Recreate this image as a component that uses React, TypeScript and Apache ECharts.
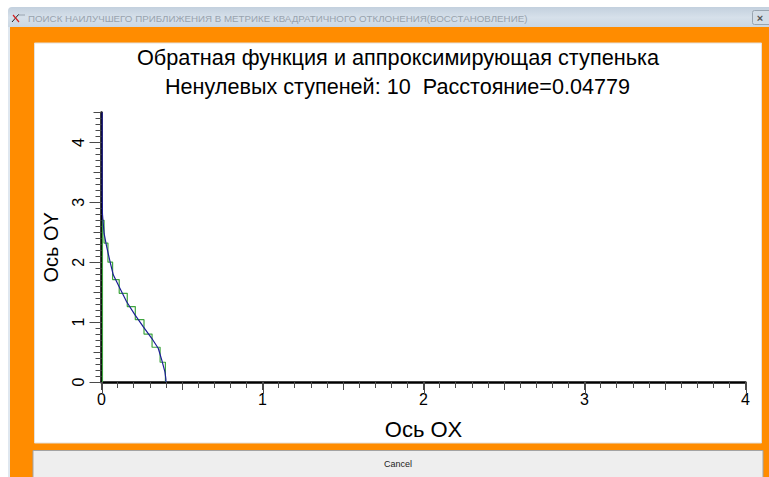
import React, { useEffect, useRef } from "react";
import * as echarts from "echarts";

const windowTitle = "ПОИСК НАИЛУЧШЕГО ПРИБЛИЖЕНИЯ В МЕТРИКЕ КВАДРАТИЧНОГО ОТКЛОНЕНИЯ(ВОССТАНОВЛЕНИЕ)";
const titleLine1 = "Обратная функция и аппроксимирующая ступенька";
const titleLine2 = "Ненулевых ступеней: 10  Расстояние=0.04779";
const xAxisName = "Ось OX";
const yAxisName = "Ось OY";
const cancelLabel = "Cancel";
const xMajorTicks = [0, 1, 2, 3, 4];
const yMajorTicks = [0, 1, 2, 3, 4];

const curveX = [0.004, 0.004, 0.006, 0.016, 0.032, 0.053, 0.073, 0.115, 0.156, 0.208, 0.26, 0.312, 0.353, 0.374, 0.394, 0.4, 0.4];
const curveY = [4.5, 3.2, 2.8, 2.48, 2.26, 2.01, 1.79, 1.56, 1.34, 1.12, 0.92, 0.73, 0.56, 0.37, 0.17, 0.05, 0];

const stepX = [0.006, 0.006, 0.016, 0.016, 0.04, 0.04, 0.069, 0.069, 0.11, 0.11, 0.16, 0.16, 0.21, 0.21, 0.264, 0.264, 0.314, 0.314, 0.364, 0.364, 0.397, 0.397];
const stepY = [0, 2.7, 2.7, 2.32, 2.32, 2.0, 2.0, 1.71, 1.71, 1.48, 1.48, 1.26, 1.26, 1.04, 1.04, 0.8, 0.8, 0.58, 0.58, 0.33, 0.33, 0];

const FONT = "Liberation Sans";
const TICK = "#4a4a4a";
const LONG_TICK = 12;

const pairs = (a: number[], b: number[]) => a.map((v, i) => [v, b[i]]);
const wholeOnly = (v: number) => (Number.isInteger(v) ? String(v) : "");

const longTickSeries = (values: number[], horizontal: boolean) => ({
  type: "custom",
  silent: true,
  clip: false,
  z: 1,
  data: values.map((v) => [v]),
  encode: { x: horizontal ? 0 : -1, y: horizontal ? -1 : 0 },
  renderItem: (_: any, api: any) => {
    const v = api.value(0);
    const p = api.coord(horizontal ? [v, 0] : [0, v]);
    return {
      type: "line",
      shape: horizontal
        ? { x1: Math.round(p[0]) + 0.5, y1: p[1], x2: Math.round(p[0]) + 0.5, y2: p[1] + LONG_TICK }
        : { x1: p[0], y1: Math.round(p[1]) + 0.5, x2: p[0] - LONG_TICK, y2: Math.round(p[1]) + 0.5 },
      style: { stroke: TICK, lineWidth: 1, fill: "none" },
    };
  },
});

export default function App() {
  const ref = useRef<HTMLDivElement>(null);
  useEffect(() => {
    document.body.style.margin = "0";
    const chart = echarts.init(ref.current!, undefined, { renderer: "svg" });
    chart.setOption({
      animation: false,
      backgroundColor: "#ffffff",
      title: [
        { text: titleLine1, left: 393, top: 41, textAlign: "center", textStyle: { fontFamily: FONT, fontSize: 21.7, fontWeight: "normal", color: "#000" } },
        { text: titleLine2, left: 392.5, top: 70, textAlign: "center", textStyle: { fontFamily: FONT, fontSize: 21.6, fontWeight: "normal", color: "#000" } },
      ],
      grid: { left: 101.5, right: 23.5, top: 112.5, bottom: 95, containLabel: false },
      xAxis: {
        type: "value", min: 0, max: 4, interval: 0.5, position: "bottom",
        axisLine: { show: true, onZero: false, lineStyle: { color: "#000", width: 2.5 } },
        axisTick: { show: true, length: 8, lineStyle: { color: TICK, width: 1 } },
        minorTick: { show: true, splitNumber: 5, length: 6, lineStyle: { color: TICK, width: 1 } },
        splitLine: { show: false },
        axisLabel: { show: true, interval: 0, margin: 9, hideOverlap: false, fontFamily: FONT, fontSize: 16, color: "#000", formatter: wholeOnly },
        name: xAxisName, nameLocation: "middle", nameGap: 36,
        nameTextStyle: { fontFamily: FONT, fontSize: 22, color: "#000" },
      },
      yAxis: {
        type: "value", min: 0, max: 4.5, interval: 0.5, position: "left",
        axisLine: { show: true, onZero: false, lineStyle: { color: "#000", width: 2.5 } },
        axisTick: { show: true, length: 8, lineStyle: { color: TICK, width: 1 } },
        minorTick: { show: true, splitNumber: 5, length: 6, lineStyle: { color: TICK, width: 1 } },
        splitLine: { show: false },
        axisLabel: { show: true, interval: 0, rotate: 90, margin: 15, hideOverlap: false, fontFamily: FONT, fontSize: 16, color: "#000", formatter: wholeOnly },
        name: yAxisName, nameLocation: "middle", nameGap: 41, nameRotate: 90,
        nameTextStyle: { fontFamily: FONT, fontSize: 20, color: "#000" },
      },
      series: [
        longTickSeries(xMajorTicks, true),
        longTickSeries(yMajorTicks, false),
        { type: "line", data: pairs(stepX, stepY), showSymbol: false, symbol: "none", lineStyle: { color: "#3fa53f", width: 1.2 }, z: 3 },
        { type: "line", data: pairs(curveX, curveY), showSymbol: false, symbol: "none", smooth: false, lineStyle: { color: "#1c1c96", width: 1.2 }, z: 4 },
      ],
      graphic: [
        { type: "rect", z: -10, shape: { x: 8, y: 7, width: 761, height: 21, r: [4, 0, 0, 0] }, style: { fill: new echarts.graphic.LinearGradient(0, 0, 0, 1, [{ offset: 0, color: "#c3d0de" }, { offset: 0.5, color: "#d6e0ea" }, { offset: 1, color: "#c9d6e2" }]) } },
        { type: "rect", z: -10, shape: { x: 8, y: 27, width: 2, height: 450 }, style: { fill: "#dfe7ef" } },
        { type: "rect", z: -9, shape: { x: 10, y: 27, width: 759, height: 450 }, style: { fill: "#ff8c00" } },
        { type: "rect", z: -8, shape: { x: 34.5, y: 43, width: 727, height: 400 }, style: { fill: "#ffffff", stroke: "#e4e0da", lineWidth: 1 } },
        { type: "rect", z: -8, shape: { x: 33, y: 450.5, width: 730, height: 30 }, style: { fill: "#eeeeee", stroke: "#a3a3a3", lineWidth: 1 } },
        { type: "text", z: 5, x: 398, y: 464, style: { text: cancelLabel, fontFamily: FONT, fontSize: 9, fill: "#222", align: "center", verticalAlign: "middle" } },
        { type: "text", z: 5, x: 28, y: 18, style: { text: windowTitle, fontFamily: FONT, fontSize: 9.75, fill: "#98a3ae", align: "left", verticalAlign: "middle" } },
        { type: "line", z: 5, shape: { x1: 12, y1: 22, x2: 19, y2: 14 }, style: { stroke: "#222", lineWidth: 1 } },
        { type: "line", z: 5, shape: { x1: 13, y1: 15, x2: 19, y2: 22 }, style: { stroke: "#d42020", lineWidth: 1.2 } },
        { type: "line", z: 5, shape: { x1: 18, y1: 15, x2: 25, y2: 15 }, style: { stroke: "#9aa5b0", lineWidth: 1 } },
        { type: "rect", z: 5, shape: { x: 752.5, y: 10.5, width: 20, height: 14, r: 2 }, style: { fill: "#d3dde7", stroke: "#98a4b0", lineWidth: 1 } },
        { type: "text", z: 6, x: 760, y: 17.5, style: { text: "×", fontFamily: FONT, fontSize: 11, fontWeight: "bold", fill: "#555", align: "center", verticalAlign: "middle" } },
      ],
    });
    return () => chart.dispose();
  }, []);
  return <div ref={ref} style={{ width: 769, height: 477 }} />;
}
